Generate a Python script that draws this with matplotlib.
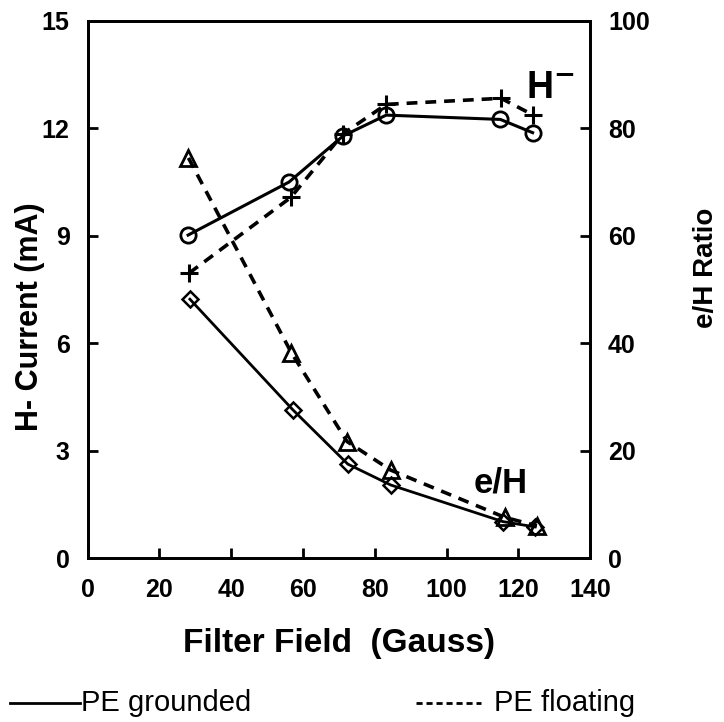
import numpy as np
import matplotlib.pyplot as plt
from matplotlib.lines import Line2D

plt.rcParams['font.family'] = ['Liberation Sans', 'DejaVu Sans']

# H- current (mA), left axis
field_hg = [28, 56.1, 71.2, 83.2, 115, 124]
h_grounded = [9.02, 10.5, 11.79, 12.37, 12.25, 11.88]
field_hf = [28.3, 56.6, 71.2, 83.2, 115.2, 124.2]
h_floating = [7.96, 10.07, 11.85, 12.67, 12.84, 12.37]

# e/H ratio, right axis
field_eg = [28.5, 57.2, 72.5, 84.5, 115.7, 124.7]
eh_grounded = [48.2, 27.6, 17.5, 13.6, 6.8, 5.8]
field_ef = [28.1, 56.8, 72.3, 84.4, 116.2, 125.2]
eh_floating = [74.5, 38.2, 21.7, 16.4, 7.6, 6.0]

fig = plt.figure(figsize=(7.24, 7.22), dpi=100)
ax = fig.add_axes([0.121, 0.227, 0.694, 0.744])
ax2 = ax.twinx()

ax.plot(field_hg, h_grounded, color='black', lw=2.2, marker='o', ms=11,
        mfc='none', mec='black', mew=2)
ax.plot(field_hf, h_floating, color='black', lw=2.6, ls=(0, (3, 2.2)),
        marker='+', ms=13, mew=2.2)
ax2.plot(field_eg, eh_grounded, color='black', lw=2, marker='D', ms=8,
         mfc='none', mec='black', mew=1.8)
ax2.plot(field_ef, eh_floating, color='black', lw=2.6, ls=(0, (3, 2.2)),
         marker='^', ms=11, mfc='none', mec='black', mew=2)

ax.set_xlim(0, 140)
ax.set_ylim(0, 15)
ax2.set_ylim(0, 100)
ax.set_xticks(np.arange(0, 141, 20))
ax.set_yticks(np.arange(0, 16, 3))
ax2.set_yticks(np.arange(0, 101, 20))

for a in (ax, ax2):
    for s in a.spines.values():
        s.set_linewidth(2)
ax.tick_params(axis='both', direction='in', length=7, width=2,
               labelsize=18, top=False)
ax.tick_params(axis='y', pad=13)
ax.tick_params(axis='x', pad=14)
ax2.tick_params(axis='y', direction='in', length=7, width=2,
                labelsize=18, pad=13)
for lab in ax.get_xticklabels() + ax.get_yticklabels() + ax2.get_yticklabels():
    lab.set_fontweight('bold')

ax.set_ylabel('H- Current (mA)', fontsize=22, fontweight='bold')
ax.yaxis.set_label_coords(-0.085, 0.45)
ax2.set_ylabel('e/H Ratio', fontsize=20, fontweight='bold')
ax2.yaxis.set_label_coords(1.205, 0.54)
ax.set_xlabel('Filter Field  (Gauss)', fontsize=24, fontweight='bold')
ax.xaxis.set_label_coords(0.5, -0.13)

ax.text(129, 12.85, r'H$^{\mathbf{-}}$', fontsize=27, fontweight='bold', ha='center')
ax.text(115, 1.84, 'e/H', fontsize=25, fontweight='bold', ha='center')

# legend row at the bottom
fig.lines.append(Line2D([0.014, 0.111], [0.027, 0.027], color='black', lw=2,
                        transform=fig.transFigure))
fig.text(0.112, 0.027, 'PE grounded', fontsize=21, va='center')
fig.lines.append(Line2D([0.574, 0.665], [0.027, 0.027], color='black', lw=2,
                        ls=(0, (2.2, 1.4)), transform=fig.transFigure))
fig.text(0.683, 0.027, 'PE floating', fontsize=21, va='center')

fig.savefig('out.png', dpi=100)
